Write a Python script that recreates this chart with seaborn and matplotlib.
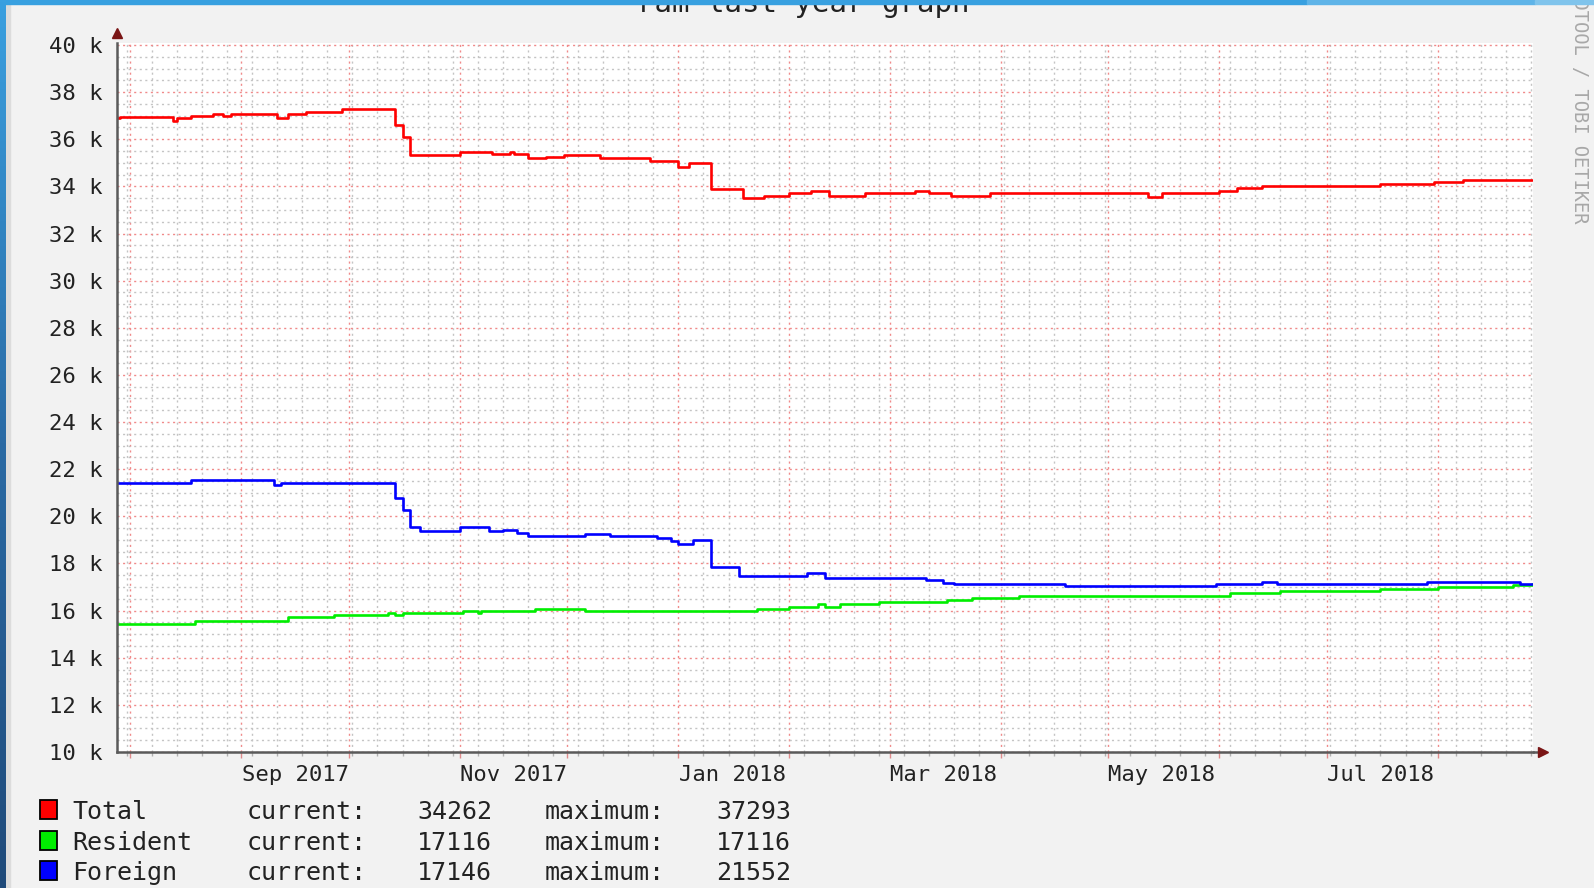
import numpy as np
import pandas as pd
import matplotlib
matplotlib.use('Agg')
import matplotlib.pyplot as plt
import matplotlib.dates as mdates
import matplotlib.ticker as mticker
from matplotlib.patches import Rectangle
import seaborn as sns

# values (step changes only)
total_dates = ['2017-07-28 07:00', '2017-07-29', '2017-08-13', '2017-08-14', '2017-08-18',
               '2017-08-24', '2017-08-27', '2017-08-29', '2017-09-11', '2017-09-14',
               '2017-09-19', '2017-09-29', '2017-10-14', '2017-10-16', '2017-10-18',
               '2017-11-01', '2017-11-10', '2017-11-15', '2017-11-16', '2017-11-20',
               '2017-11-25', '2017-11-30', '2017-12-10', '2017-12-24', '2018-01-01',
               '2018-01-04', '2018-01-10', '2018-01-19', '2018-01-25', '2018-02-01',
               '2018-02-07', '2018-02-12', '2018-02-22', '2018-03-08', '2018-03-12',
               '2018-03-18', '2018-03-29', '2018-05-12', '2018-05-16', '2018-06-01',
               '2018-06-06', '2018-06-13', '2018-07-16', '2018-07-31', '2018-08-08',
               '2018-08-27 10:00']
total_vals = [36890, 36930, 36790, 36900, 36990,
              37070, 36990, 37070, 36900, 37070,
              37170, 37293, 36600, 36110, 35330,
              35470, 35370, 35470, 35370, 35190,
              35260, 35330, 35190, 35080, 34840,
              34980, 33880, 33500, 33600, 33700,
              33820, 33600, 33700, 33820, 33700,
              33600, 33700, 33550, 33700, 33820,
              33920, 34000, 34090, 34200, 34262,
              34262]

resident_dates = ['2017-07-28 07:00', '2017-08-19', '2017-09-14', '2017-09-27', '2017-10-12',
                  '2017-10-14', '2017-10-16', '2017-11-02', '2017-11-06', '2017-11-07',
                  '2017-11-22', '2017-12-06', '2018-01-23', '2018-02-01', '2018-02-09',
                  '2018-02-11', '2018-02-15', '2018-02-26', '2018-03-17', '2018-03-24',
                  '2018-04-06', '2018-06-04', '2018-06-18', '2018-07-16', '2018-08-01',
                  '2018-08-22', '2018-08-27 10:00']
resident_vals = [15440, 15540, 15710, 15820, 15880,
                 15820, 15890, 15990, 15890, 15990,
                 16070, 15990, 16070, 16170, 16270,
                 16170, 16270, 16350, 16450, 16550,
                 16640, 16730, 16830, 16920, 17000,
                 17090, 17116]

foreign_dates = ['2017-07-28 07:00', '2017-08-18', '2017-09-10', '2017-09-12', '2017-10-14',
                 '2017-10-16', '2017-10-18', '2017-10-21', '2017-11-01', '2017-11-09',
                 '2017-11-13', '2017-11-17', '2017-11-20', '2017-12-06', '2017-12-13',
                 '2017-12-26', '2017-12-30', '2018-01-01', '2018-01-05', '2018-01-10',
                 '2018-01-18', '2018-02-06', '2018-02-11', '2018-03-11', '2018-03-16',
                 '2018-03-19', '2018-04-19', '2018-05-31', '2018-06-13', '2018-06-17',
                 '2018-07-29', '2018-08-24', '2018-08-27 10:00']
foreign_vals = [21430, 21552, 21330, 21430, 20770,
                20270, 19540, 19390, 19540, 19390,
                19440, 19300, 19170, 19230, 19170,
                19100, 18970, 18830, 19000, 17840,
                17470, 17590, 17400, 17280, 17190,
                17120, 17030, 17120, 17220, 17120,
                17200, 17146, 17146]

series_names = ['Total', 'Resident', 'Foreign']
series_colors = ['#ff0000', '#00ee00', '#0000ff']
current_vals = ['34262', '17116', '17146']
maximum_vals = ['37293', '17116', '21552']
month_labels_fmt = '%b %Y'

W, H = 1594, 888


def to_dt(lst):
    return pd.to_datetime(lst, format='ISO8601')


df = pd.concat([
    pd.DataFrame({'date': to_dt(total_dates), 'value': total_vals, 'series': 'Total'}),
    pd.DataFrame({'date': to_dt(resident_dates), 'value': resident_vals, 'series': 'Resident'}),
    pd.DataFrame({'date': to_dt(foreign_dates), 'value': foreign_vals, 'series': 'Foreign'}),
], ignore_index=True)

sns.set_theme(style='white')
plt.rcParams['font.family'] = ['DejaVu Sans Mono', 'DejaVu Sans']

fig = plt.figure(figsize=(W / 100, H / 100), dpi=100, facecolor='#f2f2f2')


def px_box(l, t, r, b):
    return [l / W, 1 - b / H, (r - l) / W, (b - t) / H]


ax = fig.add_axes(px_box(117, 42.6, 1533, 752))
ax.set_facecolor('white')

sns.lineplot(data=df, x='date', y='value', hue='series', hue_order=series_names,
             palette=dict(zip(series_names, series_colors)), estimator=None,
             drawstyle='steps-post', lw=1.9, legend=False, ax=ax, zorder=5)

ax.set_xlim(pd.Timestamp('2017-07-28 07:00'), pd.Timestamp('2018-08-27 14:00'))
ax.set_ylim(10000, 40100)
ax.set_xlabel('')
ax.set_ylabel('')

# grid: months / weeks, 2k / 500
ax.xaxis.set_major_locator(mdates.MonthLocator(bymonthday=1))
ax.xaxis.set_minor_locator(mdates.WeekdayLocator(byweekday=mdates.MO))
ax.xaxis.set_major_formatter(mticker.NullFormatter())
ax.yaxis.set_major_locator(mticker.MultipleLocator(2000))
ax.yaxis.set_minor_locator(mticker.MultipleLocator(500))
ax.yaxis.set_major_formatter(mticker.FuncFormatter(lambda v, p: f'{v / 1000:.0f} k'))

ax.grid(True, which='minor', color='#c4c4c4', linestyle=(0, (1.5, 2.5)), lw=1.0, zorder=1)
ax.grid(True, which='major', color='#f08a8a', linestyle=(0, (1.5, 2.5)), lw=1.0, zorder=2)

for s in ['top', 'right']:
    ax.spines[s].set_visible(False)
for s in ['left', 'bottom']:
    ax.spines[s].set_color('#5a5a5a')
    ax.spines[s].set_linewidth(1.8)
    ax.spines[s].set_zorder(6)

ax.tick_params(axis='y', which='major', direction='out', length=4, width=1,
               color='#e08a8a', labelsize=16, labelcolor='#222222', pad=6.5)
ax.tick_params(axis='y', which='minor', direction='out', length=2.5, width=1, color='#b0b0b0')
ax.tick_params(axis='x', which='major', direction='out', length=4, width=1, color='#e08a8a')
ax.tick_params(axis='x', which='minor', direction='out', length=3, width=1, color='#b0b0b0')

# month labels, centered in the month
ax2 = ax.twiny()
ax2.set_xlim(ax.get_xlim())
ax2.xaxis.set_ticks_position('bottom')
ax2.xaxis.set_major_locator(mdates.MonthLocator(bymonth=[1, 3, 5, 7, 9, 11], bymonthday=16))
ax2.xaxis.set_major_formatter(mdates.DateFormatter(month_labels_fmt))
ax2.xaxis.set_minor_locator(mticker.NullLocator())
ax2.tick_params(axis='x', length=0, labelsize=16, labelcolor='#222222', pad=9)
ax2.grid(False)
for s in ax2.spines.values():
    s.set_visible(False)

# axis arrows
ax.plot([1.0, 1.004], [0, 0], color='#5a5a5a', lw=1.8, transform=ax.transAxes, clip_on=False, zorder=6)
ax.plot([0], [1.0135], marker='^', ms=6.5, color='#7a1515', transform=ax.transAxes,
        clip_on=False, zorder=7)
ax.plot([1.0071], [0], marker='>', ms=7.5, color='#7a1515', transform=ax.transAxes,
        clip_on=False, zorder=7)

# legend rows
col_x = [72, 247, 417, 545, 716]
for i, (name, col) in enumerate(zip(series_names, series_colors)):
    top = 800 + i * 30.5
    fig.add_artist(Rectangle((40 / W, 1 - (top + 19) / H), 17 / W, 19 / H,
                             transform=fig.transFigure, facecolor=col,
                             edgecolor='black', lw=1.3))
    base = 1 - (top + 19) / H
    row = [name, 'current:', current_vals[i], 'maximum:', maximum_vals[i]]
    for x, t in zip(col_x, row):
        fig.text(x / W, base, t, fontsize=18, color='#222222', va='baseline', ha='left')

# title and rrdtool watermark, both cut by the screenshot edge as in the original
fig.text(803 / W, 1 - 11.5 / H, 'ram last year graph', fontsize=21, color='#222222',
         ha='center', va='baseline')
fig.text(1580 / W, 1 - 223 / H, 'RRDTOOL / TOBI OETIKER', fontsize=13.5, color='#a8a8a8',
         rotation=270, rotation_mode='anchor', ha='right', va='center')

# window frame from the screenshot
bar_h = 4.3
for x0, x1, c in [(0, 1307, '#38a0e0'), (1307, 1535, '#5fb4e8'), (1535, W, '#80c4ec')]:
    fig.add_artist(Rectangle((x0 / W, 1 - bar_h / H), (x1 - x0) / W, bar_h / H,
                             transform=fig.transFigure, color=c, zorder=20))
fig.add_artist(Rectangle((6 / W, 0), 3.5 / W, 1, transform=fig.transFigure,
                         color='#dcdcdc', zorder=19))
strip = fig.add_axes([0, 0, 6 / W, 1], zorder=21)
grad = np.linspace(0, 1, 256).reshape(-1, 1)
strip.imshow(grad, aspect='auto', cmap=matplotlib.colors.LinearSegmentedColormap.from_list(
    'frame', ['#3aa0e0', '#2a6aa4', '#1f4a7a']), extent=[0, 1, 0, 1])
strip.axis('off')

fig.savefig('out.png', dpi=100, facecolor=fig.get_facecolor())
